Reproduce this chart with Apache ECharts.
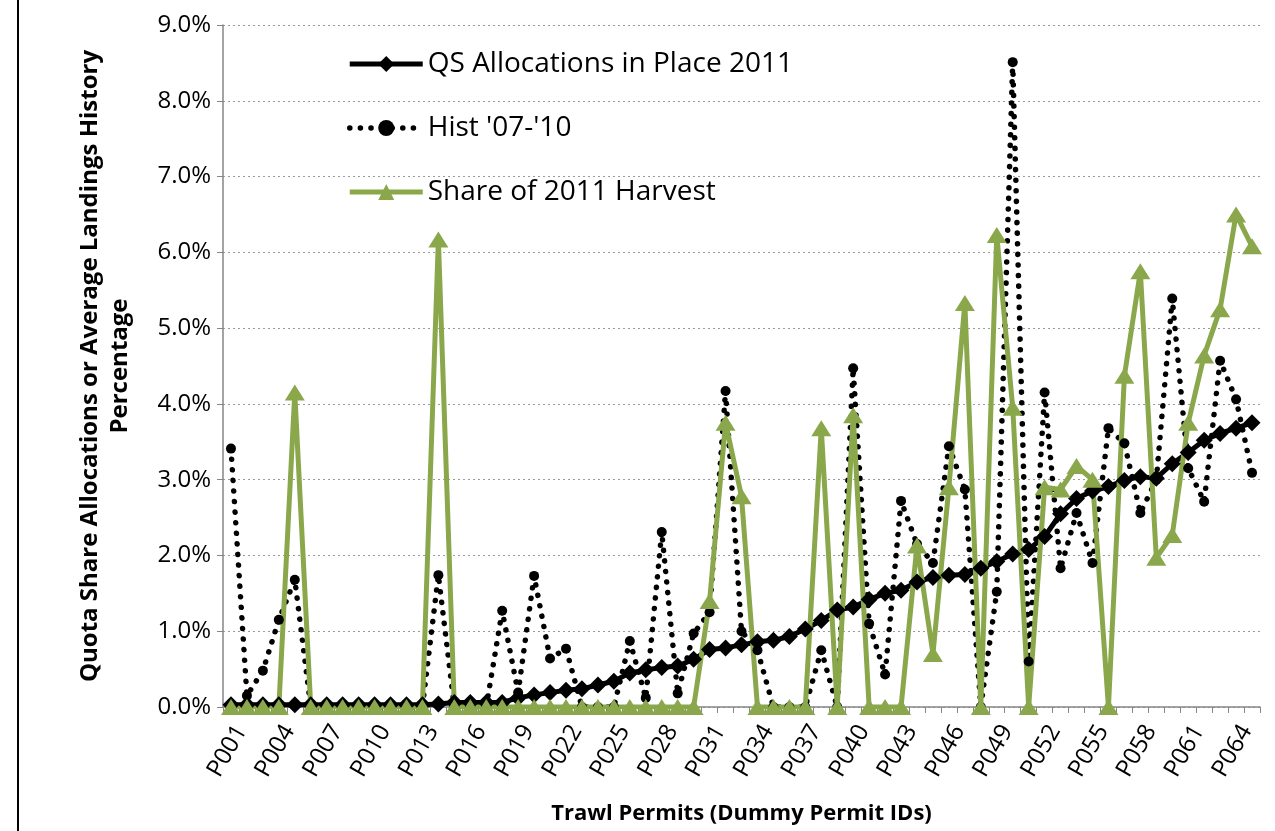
<!DOCTYPE html>
<html>
<head>
<meta charset="utf-8">
<script src="https://cdn.jsdelivr.net/npm/echarts@6/dist/echarts.min.js"></script>
<style>
html,body{margin:0;padding:0;background:#fff;}
#chart{width:1275px;height:831px;}
</style>
</head>
<body>
<div id="chart"></div>
<script>
// Categories: Trawl permits P001..P065
var permits = ["P001","P002","P003","P004","P005","P006","P007","P008","P009","P010",
"P011","P012","P013","P014","P015","P016","P017","P018","P019","P020",
"P021","P022","P023","P024","P025","P026","P027","P028","P029","P030",
"P031","P032","P033","P034","P035","P036","P037","P038","P039","P040",
"P041","P042","P043","P044","P045","P046","P047","P048","P049","P050",
"P051","P052","P053","P054","P055","P056","P057","P058","P059","P060",
"P061","P062","P063","P064","P065"];

// QS Allocations in Place 2011 (%)
var qsAlloc = [0.03,0.03,0.03,0.03,0.03,0.03,0.03,0.03,0.03,0.03,
0.03,0.03,0.03,0.04,0.06,0.06,0.06,0.06,0.12,0.16,
0.19,0.22,0.24,0.29,0.34,0.45,0.49,0.52,0.54,0.63,
0.76,0.78,0.82,0.86,0.88,0.93,1.03,1.14,1.28,1.32,
1.42,1.50,1.54,1.65,1.71,1.74,1.75,1.83,1.92,2.02,
2.08,2.25,2.55,2.75,2.85,2.91,2.99,3.04,3.02,3.21,
3.36,3.52,3.61,3.68,3.75];

// Hist '07-'10 (%)
var hist0710 = [3.41,0.15,0.48,1.15,1.68,0,0,0,0,0,
0,0,0,1.74,0,0,0,1.27,0.19,1.73,
0.64,0.77,0,0,0,0.87,0.12,2.31,0.18,0.97,
1.25,4.17,1.00,0.75,0,0,0,0.75,0,4.47,
1.10,0.43,2.72,2.15,1.90,3.44,2.87,0,1.52,8.51,
0.60,4.15,1.83,2.56,1.90,3.68,3.48,2.56,3.00,5.39,
3.15,2.71,4.57,4.06,3.09];

// Share of 2011 Harvest (%)
var share2011 = [0,0,0,0,4.15,0,0,0,0,0,
0,0,0,6.17,0,0,0,0,0,0,
0,0,0,0,0,0,0,0,0,0,
1.40,3.75,2.78,0,0,0,0,3.68,0,3.85,
0,0,0,2.13,0.70,2.90,5.33,0,6.23,3.95,
0,2.90,2.87,3.18,3.00,0,4.37,5.75,1.97,2.27,
3.75,4.64,5.25,6.50,6.08];

var seriesNames = ["QS Allocations in Place 2011", "Hist '07-'10", "Share of 2011 Harvest"];
var yTicks = [0,1,2,3,4,5,6,7,8,9];

var green = '#8AA84B';
var font = '"Open Sans", "Liberation Sans", sans-serif';

var chart = echarts.init(document.getElementById('chart'), null, {renderer:'canvas'});
chart.setOption({
  animation: false,
  backgroundColor: '#ffffff',
  graphic: [{
    type: 'line', shape: {x1: 18, y1: 0, x2: 18, y2: 831},
    style: {stroke: '#000', lineWidth: 2}
  }],
  grid: {left: 223, right: 15, top: 25, bottom: 124, containLabel: false},
  legend: {
    orient: 'vertical', left: 342, top: 45, itemWidth: 73, itemHeight: 20, itemGap: 36,
    lineStyle: {width: 'inherit'},
    textStyle: {fontFamily: font, fontSize: 28, color: '#000'},
    data: seriesNames
  },
  xAxis: {
    type: 'category', data: permits, boundaryGap: true,
    name: 'Trawl Permits (Dummy Permit IDs)', nameLocation: 'middle', nameGap: 96,
    nameTextStyle: {fontFamily: font, fontSize: 22, fontWeight: 'bold', color: '#000'},
    axisLine: {lineStyle: {color: '#868686', width: 1.5}},
    axisTick: {show: true, interval: 0, length: 6, lineStyle: {color: '#868686'}},
    axisLabel: {interval: 2, rotate: 60, fontFamily: font, fontSize: 24, color: '#000',
      margin: 14, verticalAlign: 'top'}
  },
  yAxis: {
    type: 'value', min: yTicks[0], max: yTicks[yTicks.length-1], interval: 1,
    name: 'Quota Share Allocations or Average Landings History\nPercentage',
    nameLocation: 'middle', nameRotate: 90, nameGap: 88,
    nameTextStyle: {fontFamily: font, fontSize: 24, fontWeight: 'bold', color: '#000', lineHeight: 30, align: 'center'},
    axisLine: {show: true, lineStyle: {color: '#868686', width: 1.5}},
    axisTick: {show: true, length: 6, lineStyle: {color: '#868686'}},
    axisLabel: {fontFamily: font, fontSize: 24, color: '#000', margin: 12,
      formatter: function(v){ return v.toFixed(1) + '%'; }},
    splitLine: {show: true, lineStyle: {color: '#9a9a9a', type: [2, 3], width: 1}}
  },
  series: [
    {
      name: seriesNames[0], type: 'line', data: qsAlloc,
      symbol: 'diamond', symbolSize: [17, 17], showAllSymbol: true,
      lineStyle: {color: '#000', width: 5},
      itemStyle: {color: '#000'}
    },
    {
      name: seriesNames[1], type: 'line', data: hist0710,
      symbol: 'circle', symbolSize: 10, showAllSymbol: true,
      lineStyle: {color: '#000', width: 5.5, type: [0.1, 10.5], cap: 'round'},
      itemStyle: {color: '#000'}
    },
    {
      name: seriesNames[2], type: 'line', data: share2011,
      symbol: 'triangle', symbolSize: [20, 16], showAllSymbol: true,
      lineStyle: {color: green, width: 5},
      itemStyle: {color: green}
    }
  ]
});
</script>
</body>
</html>
